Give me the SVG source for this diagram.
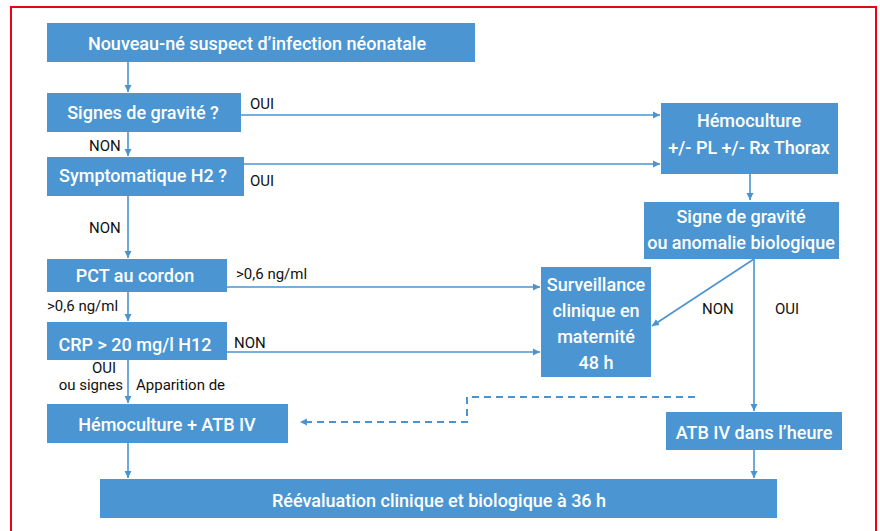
<svg xmlns="http://www.w3.org/2000/svg" width="880" height="531" viewBox="0 0 880 531">
<style>
.box{fill:#4b96d2}
.bt{fill:#fff;font-family:Roboto,"Liberation Sans",sans-serif;font-weight:500;font-size:18px;text-anchor:middle}
.lb{fill:#111;font-family:Roboto,"Liberation Sans",sans-serif;font-size:15px}
.ln{stroke:#4b93d1;stroke-width:1.6;fill:none}
.dash{stroke:#4b93d1;stroke-width:2;fill:none;stroke-dasharray:7,5}
</style>
<defs>
<marker id="ah" markerWidth="8" markerHeight="8" refX="7" refY="4" orient="auto" markerUnits="userSpaceOnUse">
<path d="M0,0.5 L7,4 L0,7.5 Z" fill="#4b93d1"/>
</marker>
</defs>
<rect x="11" y="7" width="865" height="540" fill="#fff" stroke="#e30613" stroke-width="2"/>
<g id="connectors">
<path class="ln" d="M128,62 V92" marker-end="url(#ah)"/>
<path class="ln" d="M128,132 V156" marker-end="url(#ah)"/>
<path class="ln" d="M128,196 V258" marker-end="url(#ah)"/>
<path class="ln" d="M128,292 V321" marker-end="url(#ah)"/>
<path class="ln" d="M128,360 V403" marker-end="url(#ah)"/>
<path class="ln" d="M128,443 V478" marker-end="url(#ah)"/>
<path class="ln" d="M241,115 H660" marker-end="url(#ah)"/>
<path class="ln" d="M244,164 H660" marker-end="url(#ah)"/>
<path class="ln" d="M750,174 V200" marker-end="url(#ah)"/>
<path class="ln" d="M754,259 L652,326" marker-end="url(#ah)"/>
<path class="ln" d="M754,259 V411" marker-end="url(#ah)"/>
<path class="ln" d="M754,450 V478" marker-end="url(#ah)"/>
<path class="ln" d="M227,287 H540" marker-end="url(#ah)"/>
<path class="ln" d="M227,352 H540" marker-end="url(#ah)"/>
<path class="dash" d="M695,397 H467 V422 H306"/>
<path d="M300,422 L307,418.5 L307,425.5 Z" fill="#4b93d1"/>
<text class="lb" x="250" y="109">OUI</text>
<text class="lb" x="250" y="186">OUI</text>
<text class="lb" x="89" y="151">NON</text>
<text class="lb" x="89" y="233">NON</text>
<text class="lb" x="236" y="279">&gt;0,6 ng/ml</text>
<text class="lb" x="47" y="311">&gt;0,6 ng/ml</text>
<text class="lb" x="234" y="348">NON</text>
<text class="lb" x="104" y="373" text-anchor="middle">OUI</text>
<text class="lb" x="123" y="390" text-anchor="end">ou signes</text>
<text class="lb" x="136" y="390">Apparition de</text>
<text class="lb" x="702" y="314">NON</text>
<text class="lb" x="775" y="314">OUI</text>
</g>
<g id="n1"><rect class="box" x="47" y="23" width="428" height="39"/><text class="bt" x="257" y="49.5">Nouveau-né suspect d’infection néonatale</text></g>
<g id="n2"><rect class="box" x="47" y="93" width="194" height="39"/><text class="bt" x="143" y="118.5">Signes de gravité ?</text></g>
<g id="n3"><rect class="box" x="47" y="157" width="197" height="39"/><text class="bt" x="143" y="182">Symptomatique H2 ?</text></g>
<g id="n4"><rect class="box" x="47" y="259" width="180" height="33"/><text class="bt" x="135" y="281.5">PCT au cordon</text></g>
<g id="n5"><rect class="box" x="47" y="322" width="180" height="38"/><text class="bt" x="135" y="350.5">CRP &gt; 20 mg/l H12</text></g>
<g id="n6"><rect class="box" x="47" y="404" width="241" height="39"/><text class="bt" x="167" y="430.5">Hémoculture + ATB IV</text></g>
<g id="n7"><rect class="box" x="661" y="103" width="177" height="71"/><text class="bt" x="749" y="126.5">Hémoculture</text><text class="bt" x="749" y="153.5">+/- PL +/- Rx Thorax</text></g>
<g id="n8"><rect class="box" x="644" y="202" width="195" height="57"/><text class="bt" x="741" y="223">Signe de gravité</text><text class="bt" x="741" y="249">ou anomalie biologique</text></g>
<g id="n9"><rect class="box" x="541" y="267" width="110" height="110"/><text class="bt" x="596" y="290.5">Surveillance</text><text class="bt" x="596" y="317">clinique en</text><text class="bt" x="596" y="342.5">maternité</text><text class="bt" x="596" y="368.5">48 h</text></g>
<g id="n10"><rect class="box" x="666" y="412" width="176" height="38"/><text class="bt" x="754" y="439">ATB IV dans l’heure</text></g>
<g id="n11"><rect class="box" x="100" y="479" width="677" height="39"/><text class="bt" x="439" y="507">Réévaluation clinique et biologique à 36 h</text></g>
</svg>
